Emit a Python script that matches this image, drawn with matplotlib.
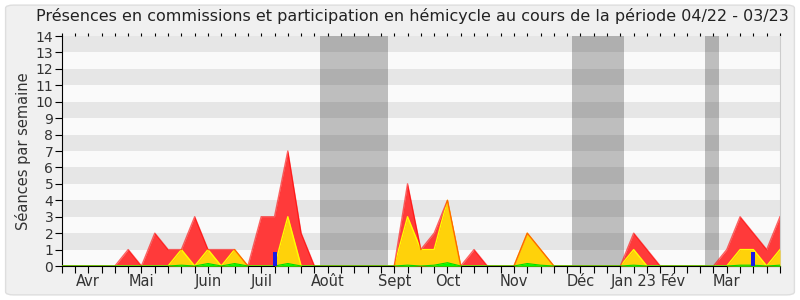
import numpy as np
import matplotlib.pyplot as plt
from matplotlib.patches import FancyBboxPatch

# weekly values, week 0 = first week of April 2022
weeks = np.arange(55)
total = [0, 0, 0, 0, 0, 1, 0, 2, 1, 1, 3, 1, 1, 1, 0, 3, 3, 7, 2, 0,
         0, 0, 0, 0, 0, 0, 5, 1, 2, 4, 0, 1, 0, 0, 0, 2, 1, 0, 0, 0,
         0, 0, 0, 2, 1, 0, 0, 0, 0, 0, 1, 3, 2, 1, 3]
hemicycle = [0, 0, 0, 0, 0, 0, 0, 0, 0, 1, 0, 1, 0, 1, 0, 0, 0, 3, 0, 0,
             0, 0, 0, 0, 0, 0, 3, 1, 1, 4, 0, 0, 0, 0, 0, 2, 1, 0, 0, 0,
             0, 0, 0, 1, 0, 0, 0, 0, 0, 0, 0, 1, 1, 0, 1]
interventions = [0, 0, 0, 0, 0, 0, 0, 0, 0, 0.05, 0, 0.15, 0, 0.15, 0, 0, 0, 0.15, 0, 0,
                 0, 0, 0, 0, 0, 0, 0.05, 0, 0.05, 0.2, 0, 0, 0, 0, 0, 0.15, 0.05, 0, 0, 0,
                 0, 0, 0, 0.05, 0, 0, 0, 0, 0, 0, 0, 0.05, 0.05, 0, 0.05]
question_weeks = [16, 52]
question_vals = [0.85, 0.85]

holidays = [(19.4, 24.55), (38.4, 42.3), (48.33, 49.43)]

month_pos = [2, 6, 11, 15, 20, 25, 29, 34, 39, 43, 46, 50]
month_names = ['Avr', 'Mai', 'Juin', 'Juil', 'Août', 'Sept', 'Oct', 'Nov',
               'Déc', 'Jan 23', 'Fév', 'Mar']

fig = plt.figure(figsize=(8, 3), dpi=100, facecolor='white')
fig.patches.append(FancyBboxPatch((0.007, 0.017), 0.986, 0.966, boxstyle='round,pad=0,rounding_size=0.01',
                                  transform=fig.transFigure, facecolor='#f0f0f0', edgecolor='#dedede',
                                  lw=1, zorder=-10))
ax = fig.add_axes([0.0771, 0.1133, 0.8979, 0.7667])
ax.set_facecolor('#fafafa')
for i in range(1, 14, 2):
    ax.axhspan(i, i + 1, color='#e6e6e6', lw=0, zorder=0)
for a, b in holidays:
    ax.axvspan(a, b, color='black', alpha=0.24, lw=0, zorder=1)

ax.fill_between(weeks, total, color='#ff3a3a', lw=0, zorder=2)
ax.fill_between(weeks, hemicycle, color='#ffd20a', lw=0, zorder=3)
ax.plot(weeks, hemicycle, color='#ffff00', lw=1, zorder=4)
ax.plot(weeks, total, color='#ff0000', lw=1, alpha=0.6, zorder=5)
ax.fill_between(weeks, interventions, color='#00ff00', lw=0, zorder=6)
ax.plot(weeks, interventions, color='#00dd00', lw=0.8, zorder=6)
ax.bar(question_weeks, question_vals, width=0.3, color='#1a1ae6', zorder=7)

ax.set_xlim(0, 54)
ax.set_ylim(0, 14)
ax.set_yticks(range(15))
ax.tick_params(axis='y', labelsize=10, length=5, pad=1)
labels = [''] * 55
for p, n in zip(month_pos, month_names):
    labels[p] = n
ax.set_xticks(weeks)
ax.set_xticklabels(labels, fontsize=10.5, color='#333333')
ax.tick_params(axis='x', length=5, pad=1)
ax.tick_params(axis='y', colors='black', labelcolor='#333333')

top = ax.secondary_xaxis('top')
top.set_xticks(weeks)
top.set_xticklabels([])
top.tick_params(length=2)
top.spines['top'].set_visible(False)

ax.spines['top'].set_visible(False)
ax.spines['right'].set_color('#cccccc')
ax.set_ylabel('Séances par semaine', fontsize=10.5, color='#333333', labelpad=3)
fig.suptitle('Présences en commissions et participation en hémicycle au cours de la période 04/22 - 03/23',
             x=0.515, y=0.975, fontsize=11.5, color='#222222')

fig.savefig('out.png', dpi=100, facecolor=fig.get_facecolor())
